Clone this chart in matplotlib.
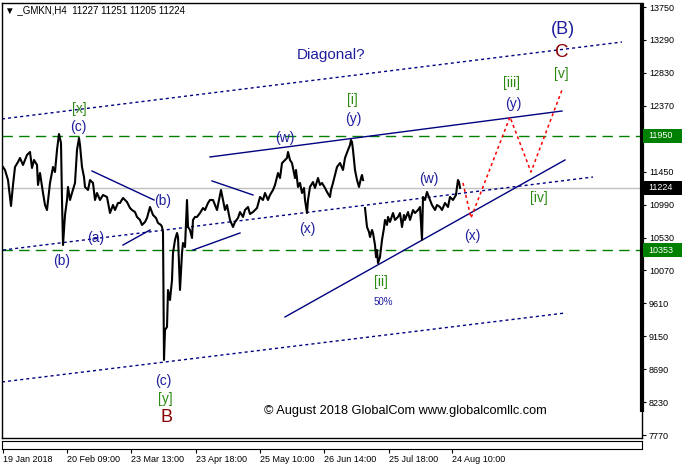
import numpy as np
import matplotlib
matplotlib.use("Agg")
import matplotlib.pyplot as plt
from matplotlib.patches import Rectangle
from matplotlib.transforms import blended_transform_factory

# H4 price path of GMKN (bar index, close)
bars = [3, 5, 8, 10, 11, 13, 15, 18, 20, 23, 25, 27, 30, 32, 34, 37, 38, 40, 43, 45,
        47, 50, 53, 55, 57, 59, 61, 62, 63, 65, 67, 68, 70, 72, 75, 77, 79, 80, 82, 84,
        85, 88, 90, 93, 95, 97, 100, 103, 107, 110, 113, 115, 118, 120, 123, 127, 130, 132, 135, 137,
        140, 142, 145, 147, 150, 153, 156, 158, 161, 162, 163, 164, 165, 167, 168, 170, 172, 173, 175, 177,
        178, 180, 182, 183, 185, 187, 188, 190, 192, 193, 195, 197, 200, 203, 205, 208, 210, 213, 217, 219,
        221, 223, 225, 227, 230, 233, 235, 238, 240, 243, 245, 248, 250, 253, 257, 260, 263, 265, 268, 270,
        273, 275, 278, 280, 282, 285, 287, 288, 290, 292, 295, 296, 298, 300, 302, 304, 305, 307, 308, 310,
        313, 315, 318, 320, 322, 325, 327, 330, 331, 333, 335, 337, 340, 343, 345, 348, 350, 351, 352, 353,
        355, 357, 359, 361, 362, 363, 364, 365, 367, 369, 370, 372, 373, 375, 376, 377, 378, 380, 382, 384,
        385, 387, 388, 390, 393, 395, 398, 400, 402, 404, 405, 408, 410, 413, 415, 418, 420, 422, 423, 425,
        427, 430, 432, 435, 437, 440, 442, 445, 448, 450, 453, 456, 457, 458, 459, 460]
close = [11515, 11473, 11333, 11096, 10970, 11264, 11515, 11585, 11641, 11543, 11613, 11683, 11725, 11501, 11613, 11543, 11264, 11431, 11152, 10984,
         10914, 11292, 11515, 11445, 11753, 11976, 11850, 11054, 10425, 10844, 11054, 11236, 11054, 11152, 11292, 11753, 11920, 11822, 11515, 11375,
         11236, 11194, 11333, 11292, 11054, 11152, 11054, 11124, 11096, 10872, 10984, 10914, 11012, 11012, 11082, 11026, 10942, 10914, 10886, 10817,
         10775, 10705, 10747, 10803, 10956, 10845, 10803, 10733, 10705, 10677, 10607, 8819, 9238, 9280, 9797, 9657, 9936, 10314, 10495, 10593,
         10537, 9797, 10314, 10453, 10397, 11054, 10677, 10635, 10523, 10775, 10817, 10817, 10872, 10942, 10914, 11012, 11054, 11054, 10914, 11054,
         11194, 11054, 10914, 10984, 10775, 10677, 10747, 10803, 10886, 10817, 10914, 10956, 10858, 10886, 10942, 11096, 11054, 11152, 11054, 11124,
         11194, 11264, 11431, 11361, 11569, 11613, 11641, 11725, 11613, 11569, 11361, 11473, 11236, 11292, 11152, 11222, 11054, 10872, 11054, 11236,
         11305, 11222, 11361, 11264, 11292, 11222, 11166, 11096, 11194, 11292, 11403, 11515, 11571, 11473, 11641, 11753, 11822, 11892, 11864, 11753,
         11473, 11333, 11236, 11361, 11403, 11333, np.nan, 10942, 10677, 10607, 10537, 10635, 10593, 10425, 10256, 10355, 10172, 10258, 10495, 10663,
         10775, 10705, 10817, 10747, 10872, 10775, 10817, 10872, 10677, 10845, 10775, 10886, 10775, 10914, 10872, 10914, 10956, 10495, 11096, 11054,
         11166, 11054, 10984, 10914, 10984, 10956, 10914, 11012, 10956, 11096, 11054, 11124, 11236, 11333, 11305, 11224]

price_ticks = [13750, 13290, 12830, 12370, 11910, 11450, 10990, 10530, 10070, 9610, 9150, 8690, 8230, 7770]
time_bars = [3, 67, 131, 196, 260, 324, 389, 452]
time_labels = ["19 Jan 2018", "20 Feb 09:00", "23 Mar 13:00", "23 Apr 18:00",
               "25 May 10:00", "26 Jun 14:00", "25 Jul 18:00", "24 Aug 10:00"]

levels = [11950, 10353]
last_price = 11224

# channel (dotted) and wedge (solid) lines: ((bar, price), (bar, price))
channels = [((2, 12186), (622, 13261)), ((3, 10355), (593, 11375)), ((2, 8512), (565, 9475))]
wedges = [((210, 11655), (562, 12297)), ((285, 9420), (565, 11613)),
          ((92, 11459), (154, 11054)), ((123, 10425), (150, 10635)),
          ((193, 10355), (240, 10593)), ((212, 11320), (253, 11124))]
forecast_bars = [463, 471, 510, 531, 562]
forecast_price = [11292, 10803, 12214, 11445, 12591]

NAVY = "#000080"
LBL = "#1e1e9e"
GRN = "#2a8a10"
RED = "#8b0000"
FONT = ["Liberation Sans", "DejaVu Sans"]

plt.rcParams["font.family"] = FONT

fig = plt.figure(figsize=(6.82, 4.69), dpi=100)
W, H = 682, 469
ax = fig.add_axes([2 / W, (H - 438) / H, 640 / W, 435 / H])
ax.set_xlim(2, 642)
ax.set_ylim(7729, 13806)

for lv in levels:
    ax.axhline(lv, color="#008000", lw=1, dashes=(7.5, 4.5))
ax.axhline(last_price, color="#c0c0c0", lw=1)

for (x0, y0), (x1, y1) in channels:
    ax.plot([x0, x1], [y0, y1], color=NAVY, lw=1, dashes=(2.2, 2.2))
for (x0, y0), (x1, y1) in wedges:
    ax.plot([x0, x1], [y0, y1], color=NAVY, lw=1)

ax.plot(bars, close, color="black", lw=1.5)
ax.plot(forecast_bars, forecast_price, color="red", lw=1.1, dashes=(2, 2))

# wave labels
labels = [
    ("[x]", 79, 12325, GRN, 10), ("(c)", 78, 12072, LBL, 10), ("(b)", 62, 10202, LBL, 10),
    ("(a)", 96, 10527, LBL, 10), ("(b)", 163, 11040, LBL, 10), ("(w)", 285, 11920, LBL, 10),
    ("(x)", 307, 10649, LBL, 10), ("[i]", 352, 12451, GRN, 10), ("(y)", 353, 12186, LBL, 10),
    ("Diagonal?", 331, 13080, LBL, 11), ("(w)", 429, 11348, LBL, 10), ("(x)", 472, 10551, LBL, 10),
    ("[ii]", 381, 9908, GRN, 10), ("50%", 383, 9629, LBL, 7), ("[iii]", 512, 12689, GRN, 10),
    ("(y)", 513, 12395, LBL, 10), ("[iv]", 539, 11082, GRN, 10), ("[v]", 561, 12814, GRN, 10),
    ("C", 562, 13121, RED, 13.5), ("(B)", 563, 13429, LBL, 13), ("(c)", 163, 8525, LBL, 10),
    ("[y]", 165, 8274, GRN, 10), ("B", 166, 8009, RED, 13),
]
for txt, x, y, col, fs in labels:
    ax.text(x, y, txt, color=col, fontsize=fs, ha="center", va="center")

ax.text(405, 8106, "\u00a9 August 2018 GlobalCom www.globalcomllc.com",
        fontsize=9.2, ha="center", va="center", color="black")

# price axis on the right (11910 sits under the 11950 level box)
ax.yaxis.tick_right()
ax.set_yticks(price_ticks)
ax.set_yticklabels(["" if p == 11910 else str(p) for p in price_ticks])
ax.tick_params(axis="y", direction="out", length=3, width=0.8, pad=2, labelsize=6.5)
ax.set_xticks([])
for sp in ax.spines.values():
    sp.set_linewidth(1)

bt = blended_transform_factory(fig.transFigure, ax.transData)
boxes = [(levels[0], "#008000"), (levels[1], "#008000"), (last_price, "black")]
for val, col in boxes:
    ax.add_patch(Rectangle((643 / W, val - 95), 39 / W, 190, transform=bt,
                           facecolor=col, edgecolor="none", clip_on=False, zorder=5))
    ax.text(648 / W, val, str(val), transform=bt, color="white", fontsize=6.5,
            ha="left", va="center", zorder=6, clip_on=False)

# thick bar along the right edge
ax.plot([641.5, 641.5], [8092, 13806], color="black", lw=3, clip_on=False,
        solid_capstyle="butt")

# header
fig.text(5 / W, 1 - 10 / H, "\u25bc _GMKN,H4  11227 11251 11205 11224",
         fontsize=7, ha="left", va="center", color="black")

# time axis strip
ax2 = fig.add_axes([2 / W, (H - 449) / H, 640 / W, 8 / H])
ax2.set_xlim(2, 642)
ax2.set_yticks([])
ax2.set_xticks(time_bars)
ax2.set_xticklabels(time_labels, ha="left")
ax2.tick_params(axis="x", direction="out", length=3, width=0.8, pad=1.5, labelsize=6.5)

fig.savefig("out.png", dpi=100, facecolor="white")
